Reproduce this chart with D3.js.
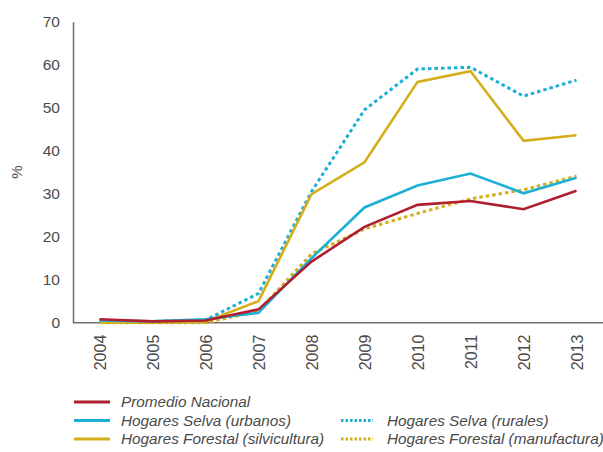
<!DOCTYPE html>
<html>
<head>
<meta charset="utf-8">
<script src="https://cdn.jsdelivr.net/npm/d3@7"></script>
<style>
  body { margin: 0; background: #fff; }
  text { font-family: "Liberation Sans", Arial, sans-serif; fill: #4a4a4a; }
</style>
</head>
<body>
<div id="chart"></div>
<script>
var width = 603,
    height = 452;

var years = ["2004", "2005", "2006", "2007", "2008", "2009", "2010", "2011", "2012", "2013"];
var promedioNacional = [0.8, 0.3, 0.5, 3.1, 14.2, 22.3, 27.4, 28.3, 26.4, 30.7];
var selvaUrbanos     = [0.5, 0.3, 0.8, 2.3, 15.0, 26.8, 31.9, 34.7, 30.1, 33.7];
var selvaRurales     = [0.2, 0.3, 0.6, 6.8, 30.5, 49.5, 59.0, 59.4, 52.7, 56.4];
var forestalSilvi    = [0.0, 0.0, 0.3, 5.0, 29.9, 37.3, 56.0, 58.5, 42.3, 43.6];
var forestalManuf    = [0.0, 0.0, 0.0, 2.7, 16.0, 21.8, 25.4, 28.8, 30.9, 34.1];
var yTicks = [0, 10, 20, 30, 40, 50, 60, 70];

var red = "#b01f2e", blue = "#1cb0d6", gold = "#d4ae1b";

var series = [
  {name: "Promedio Nacional", values: promedioNacional, color: red, dotted: false, col: 0, row: 0},
  {name: "Hogares Selva (urbanos)", values: selvaUrbanos, color: blue, dotted: false, col: 0, row: 1},
  {name: "Hogares Forestal (silvicultura)", values: forestalSilvi, color: gold, dotted: false, col: 0, row: 2},
  {name: "Hogares Selva (rurales)", values: selvaRurales, color: blue, dotted: true, col: 1, row: 1},
  {name: "Hogares Forestal (manufactura)", values: forestalManuf, color: gold, dotted: true, col: 1, row: 2}
];
// draw order (back to front)
var drawOrder = [4, 3, 2, 1, 0];

var svg = d3.select("#chart").append("svg")
    .attr("width", width)
    .attr("height", height);

var x = d3.scalePoint()
    .domain(years)
    .range([73, 603])
    .padding(0.5);

var y = d3.scaleLinear()
    .domain([0, 70])
    .range([322.7, 21.7]);

// y axis
var yAxis = svg.append("g")
    .attr("transform", "translate(73,0)")
    .call(d3.axisLeft(y).tickValues(yTicks).tickSize(0).tickPadding(13));
yAxis.select(".domain").attr("stroke", "#6e6e6e").attr("stroke-width", 1.5);
yAxis.selectAll("text")
    .style("font-size", "15.5px")
    .attr("fill", "#4a4a4a");

// x axis
var xAxis = svg.append("g")
    .attr("transform", "translate(0," + y(0) + ")")
    .call(d3.axisBottom(x).tickSize(0).tickPadding(0));
xAxis.select(".domain")
    .attr("d", "M73,0H603")
    .attr("stroke", "#6e6e6e").attr("stroke-width", 1.5);
xAxis.selectAll("text")
    .style("font-size", "16px")
    .attr("fill", "#4a4a4a")
    .attr("text-anchor", "end")
    .attr("dy", "0.35em")
    .attr("transform", "translate(0,12) rotate(-90)");

// % label
svg.append("text")
    .attr("transform", "translate(22,172) rotate(-90)")
    .attr("text-anchor", "middle")
    .style("font-size", "15px")
    .text("%");

var line = d3.line()
    .x(function(d, i) { return x(years[i]); })
    .y(function(d) { return y(d); });

drawOrder.forEach(function(k) {
  var s = series[k];
  svg.append("path")
      .datum(s.values)
      .attr("fill", "none")
      .attr("stroke", s.color)
      .attr("stroke-width", s.dotted ? 3 : 2.6)
      .attr("stroke-dasharray", s.dotted ? "3.5,3" : null)
      .attr("stroke-linejoin", "miter")
      .attr("d", line);
});

// legend
var legendCols = [74, 341];
var legendRows = [402, 420.5, 439];
series.forEach(function(s) {
  var g = svg.append("g")
      .attr("transform", "translate(" + legendCols[s.col] + "," + legendRows[s.row] + ")");
  g.append("line")
      .attr("x1", 0).attr("x2", s.dotted ? 32 : 36)
      .attr("y1", 0).attr("y2", 0)
      .attr("stroke", s.color)
      .attr("stroke-width", 3)
      .attr("stroke-dasharray", s.dotted ? "2.5,2" : null);
  g.append("text")
      .attr("x", s.col === 0 ? 47 : 46)
      .attr("dy", "0.35em")
      .style("font-size", "15.3px")
      .style("font-style", "italic")
      .attr("fill", "#3a3a3a")
      .text(s.name);
});
</script>
</body>
</html>
